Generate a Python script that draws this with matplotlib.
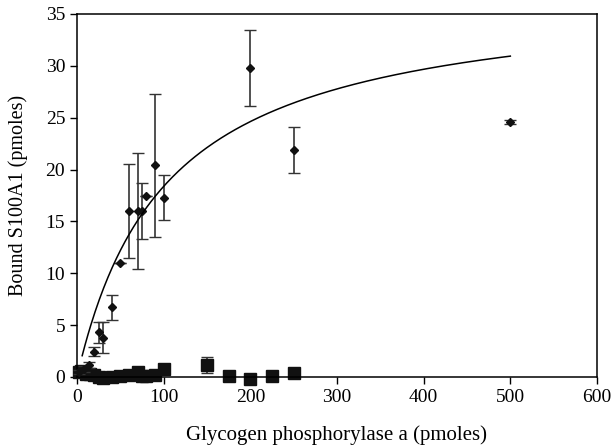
import numpy as np
import matplotlib.pyplot as plt

# S100A1 bound vs glycogen phosphorylase a (diamonds) and control (squares)
gp_x = [2, 8, 14, 20, 25, 30, 40, 50, 60, 70, 75, 80, 90, 100, 200, 250, 500]
gp_y = [0.5, 0.8, 1.15, 2.45, 4.3, 3.8, 6.7, 11.0, 16.0, 16.0, 16.0, 17.4, 20.4, 17.3, 29.8, 21.9, 24.6]
gp_err = [0.2, 0.3, 0.3, 0.45, 1.0, 1.5, 1.25, 0, 4.5, 5.6, 2.7, 0, 6.9, 2.2, 3.65, 2.2, 0.2]

ctl_x = [2, 5, 10, 15, 20, 25, 30, 40, 50, 60, 70, 75, 80, 90, 100, 150, 175, 200, 225, 250]
ctl_y = [0.5, 0.6, 0.3, 0.3, 0.2, 0.0, -0.1, 0.0, 0.1, 0.2, 0.5, 0.1, 0.1, 0.2, 0.8, 1.15, 0.1, -0.2, 0.1, 0.35]
ctl_err = [0, 0, 0, 0, 0, 0, 0, 0, 0, 0, 0, 0, 0, 0, 0.3, 0.75, 0, 0, 0, 0.15]

# hyperbolic fit parameters
bmax = 37.3
kd = 103.0

plt.rcParams['font.family'] = ['Liberation Serif', 'DejaVu Serif']

fig = plt.figure(figsize=(6.12, 4.48), dpi=100)
ax = fig.add_axes([0.1258, 0.1585, 0.8497, 0.8105])

ctl = ax.errorbar(ctl_x, ctl_y, yerr=ctl_err, fmt='s', color='#111111', ms=8,
                  ecolor='#333333', elinewidth=1.2, capsize=4, zorder=2)
gp = ax.errorbar(gp_x, gp_y, yerr=gp_err, fmt='D', color='#111111', ms=4,
                 ecolor='#333333', elinewidth=1.2, capsize=4, zorder=3)
for eb in (ctl, gp):
    for a in eb.get_children():
        a.set_clip_on(False)

xf = np.linspace(6, 500, 300)
ax.plot(xf, bmax * xf / (kd + xf), color='black', lw=1.1, zorder=4)

ax.set_xlim(0, 600)
ax.set_ylim(0, 35)
ax.set_xticks(range(0, 601, 100))
ax.set_yticks(range(0, 36, 5))
ax.tick_params(direction='out', length=5, labelsize=14, width=1)
for s in ax.spines.values():
    s.set_linewidth(1.1)
ax.set_xlabel('Glycogen phosphorylase a (pmoles)', fontsize=15, labelpad=14)
ax.set_ylabel('Bound S100A1 (pmoles)', fontsize=14.5, labelpad=13)

fig.savefig('out.png', dpi=100)
